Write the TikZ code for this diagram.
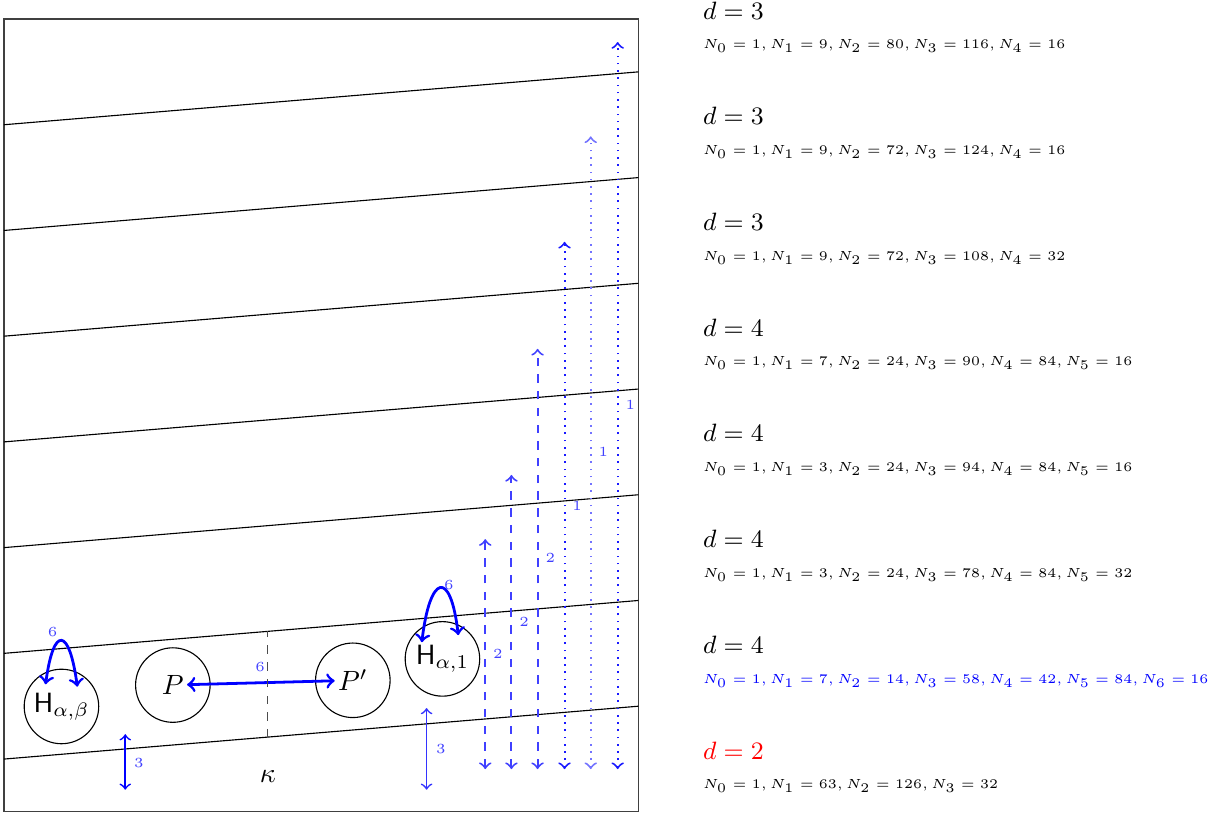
\documentclass[tikz,border=0pt]{standalone}
\usepackage{amsmath,amssymb}
\usetikzlibrary{calc}
\tikzset{
  frame/.style={draw=black!75},
  strip/.style={black},
  hub/.style={font=\normalsize, inner sep=1pt},
  ring/.style={black},
  loop/.style={<->, line width=1pt, blue},
  jump/.style={<->, semithick},
  lbl/.style={font=\tiny, text=blue!75, inner sep=1pt},
  dhead/.style={anchor=base west, inner sep=0pt, font=\small},
  nrow/.style={anchor=base west, inner sep=0pt, font=\tiny, scale=0.947, transform shape}
}

\begin{document}
\begin{tikzpicture}
  \useasboundingbox (-0.05,-0.04) rectangle (15.45,10.24);
  \draw[frame] (0,0) rectangle (8,10);
  % slanted strips
  \foreach \k in {0,...,6}
    \draw[strip] (0,{2/3+4*\k/3}) -- (8,{4/3+4*\k/3});

  % circled vertices
  \node[hub] (Hab) at (0.725,1.33) {$\mathsf{H}_{\alpha,\beta}$};
  \node[hub] (P) at (2.13,1.60) {$P$};
  \node[hub] (Pp) at (4.40,1.66) {$P'$};
  \node[hub] (Ha1) at (5.53,1.93) {$\mathsf{H}_{\alpha,1}$};
  \foreach \n in {Hab,P,Pp,Ha1}
    \draw[ring] (\n) circle (0.47);

  % self loops
  \coordinate (Hab-l) at ($(Hab)+(-0.2,0.28)$);
  \coordinate (Hab-r) at ($(Hab)+(0.2,0.25)$);
  \draw[loop] (Hab-l) .. controls +(0.1,0.75) and +(-0.1,0.75) .. (Hab-r)
    node[lbl, pos=0.5, anchor=south east] {6};
  \coordinate (Ha1-l) at ($(Ha1)+(-0.26,0.21)$);
  \coordinate (Ha1-r) at ($(Ha1)+(0.2,0.30)$);
  \draw[loop] (Ha1-l) .. controls +(0.1,0.85) and +(-0.1,0.85) .. (Ha1-r)
    node[lbl, pos=0.5, anchor=south west, yshift=-2pt] {6};

  % P to P'
  \draw[loop] (P) -- (Pp);
  \coordinate (cut-lo) at (3.32,0.94);
  \coordinate (cut-hi) at (3.32,2.28);
  \draw[dashed, black!70] (cut-lo) -- (cut-hi);
  \node[lbl] (six) at (3.23,1.83) {6};
  \node (kappa) at (3.33,0.45) {$\kappa$};

  % short arrows
  \coordinate (a-lo) at (1.53,0.28);
  \coordinate (a-hi) at (1.53,0.98);
  \draw[jump, blue] (a-lo) -- (a-hi);
  \node[lbl] at (1.70,0.62) {3};
  \coordinate (b-lo) at (5.33,0.28);
  \coordinate (b-hi) at (5.33,1.31);
  \draw[jump, blue!80] (b-lo) -- (b-hi);
  \node[lbl] at (5.51,0.79) {3};

  % long arrows
  \foreach \x/\t/\s/\col/\l/\ly [count=\i] in {
      6.07/3.44/dashed/blue!75/2/1.99,
      6.40/4.25/dashed/blue!75/2/2.40,
      6.73/5.84/dashed/blue!75/2/3.20,
      7.07/7.19/dotted/blue!90/1/3.86,
      7.40/8.52/dotted/blue!55/1/4.54,
      7.74/9.71/dotted/blue!90/1/5.13} {
    \coordinate (lo\i) at (\x,0.54);
    \coordinate (hi\i) at (\x,\t);
    \draw[jump, \s, color=\col, line width=0.7pt] (lo\i) -- (hi\i);
    \node[lbl] at ({\x+0.16},\ly) {\l};
  }

  % degree data
  \foreach \d/\dc/\nc/\txt [count=\k from 0] in {
      3/black/black/{N_0 = 1, N_1 = 9, N_2 = 80, N_3 = 116, N_4 = 16},
      3/black/black/{N_0 = 1, N_1 = 9, N_2 = 72, N_3 = 124, N_4 = 16},
      3/black/black/{N_0 = 1, N_1 = 9, N_2 = 72, N_3 = 108, N_4 = 32},
      4/black/black/{N_0 = 1, N_1 = 7, N_2 = 24, N_3 = 90, N_4 = 84, N_5 = 16},
      4/black/black/{N_0 = 1, N_1 = 3, N_2 = 24, N_3 = 94, N_4 = 84, N_5 = 16},
      4/black/black/{N_0 = 1, N_1 = 3, N_2 = 24, N_3 = 78, N_4 = 84, N_5 = 32},
      4/black/blue/{N_0 = 1, N_1 = 7, N_2 = 14, N_3 = 58, N_4 = 42, N_5 = 84, N_6 = 16},
      2/red/black/{N_0 = 1, N_1 = 63, N_2 = 126, N_3 = 32}} {
    \node[dhead, text=\dc] (d\k) at (8.81,{10-4*\k/3}) {$d = \d$};
    \node[nrow, text=\nc] (n\k) at (8.81,{9.625-4*\k/3}) {$\txt$};
  }
\end{tikzpicture}
\end{document}
